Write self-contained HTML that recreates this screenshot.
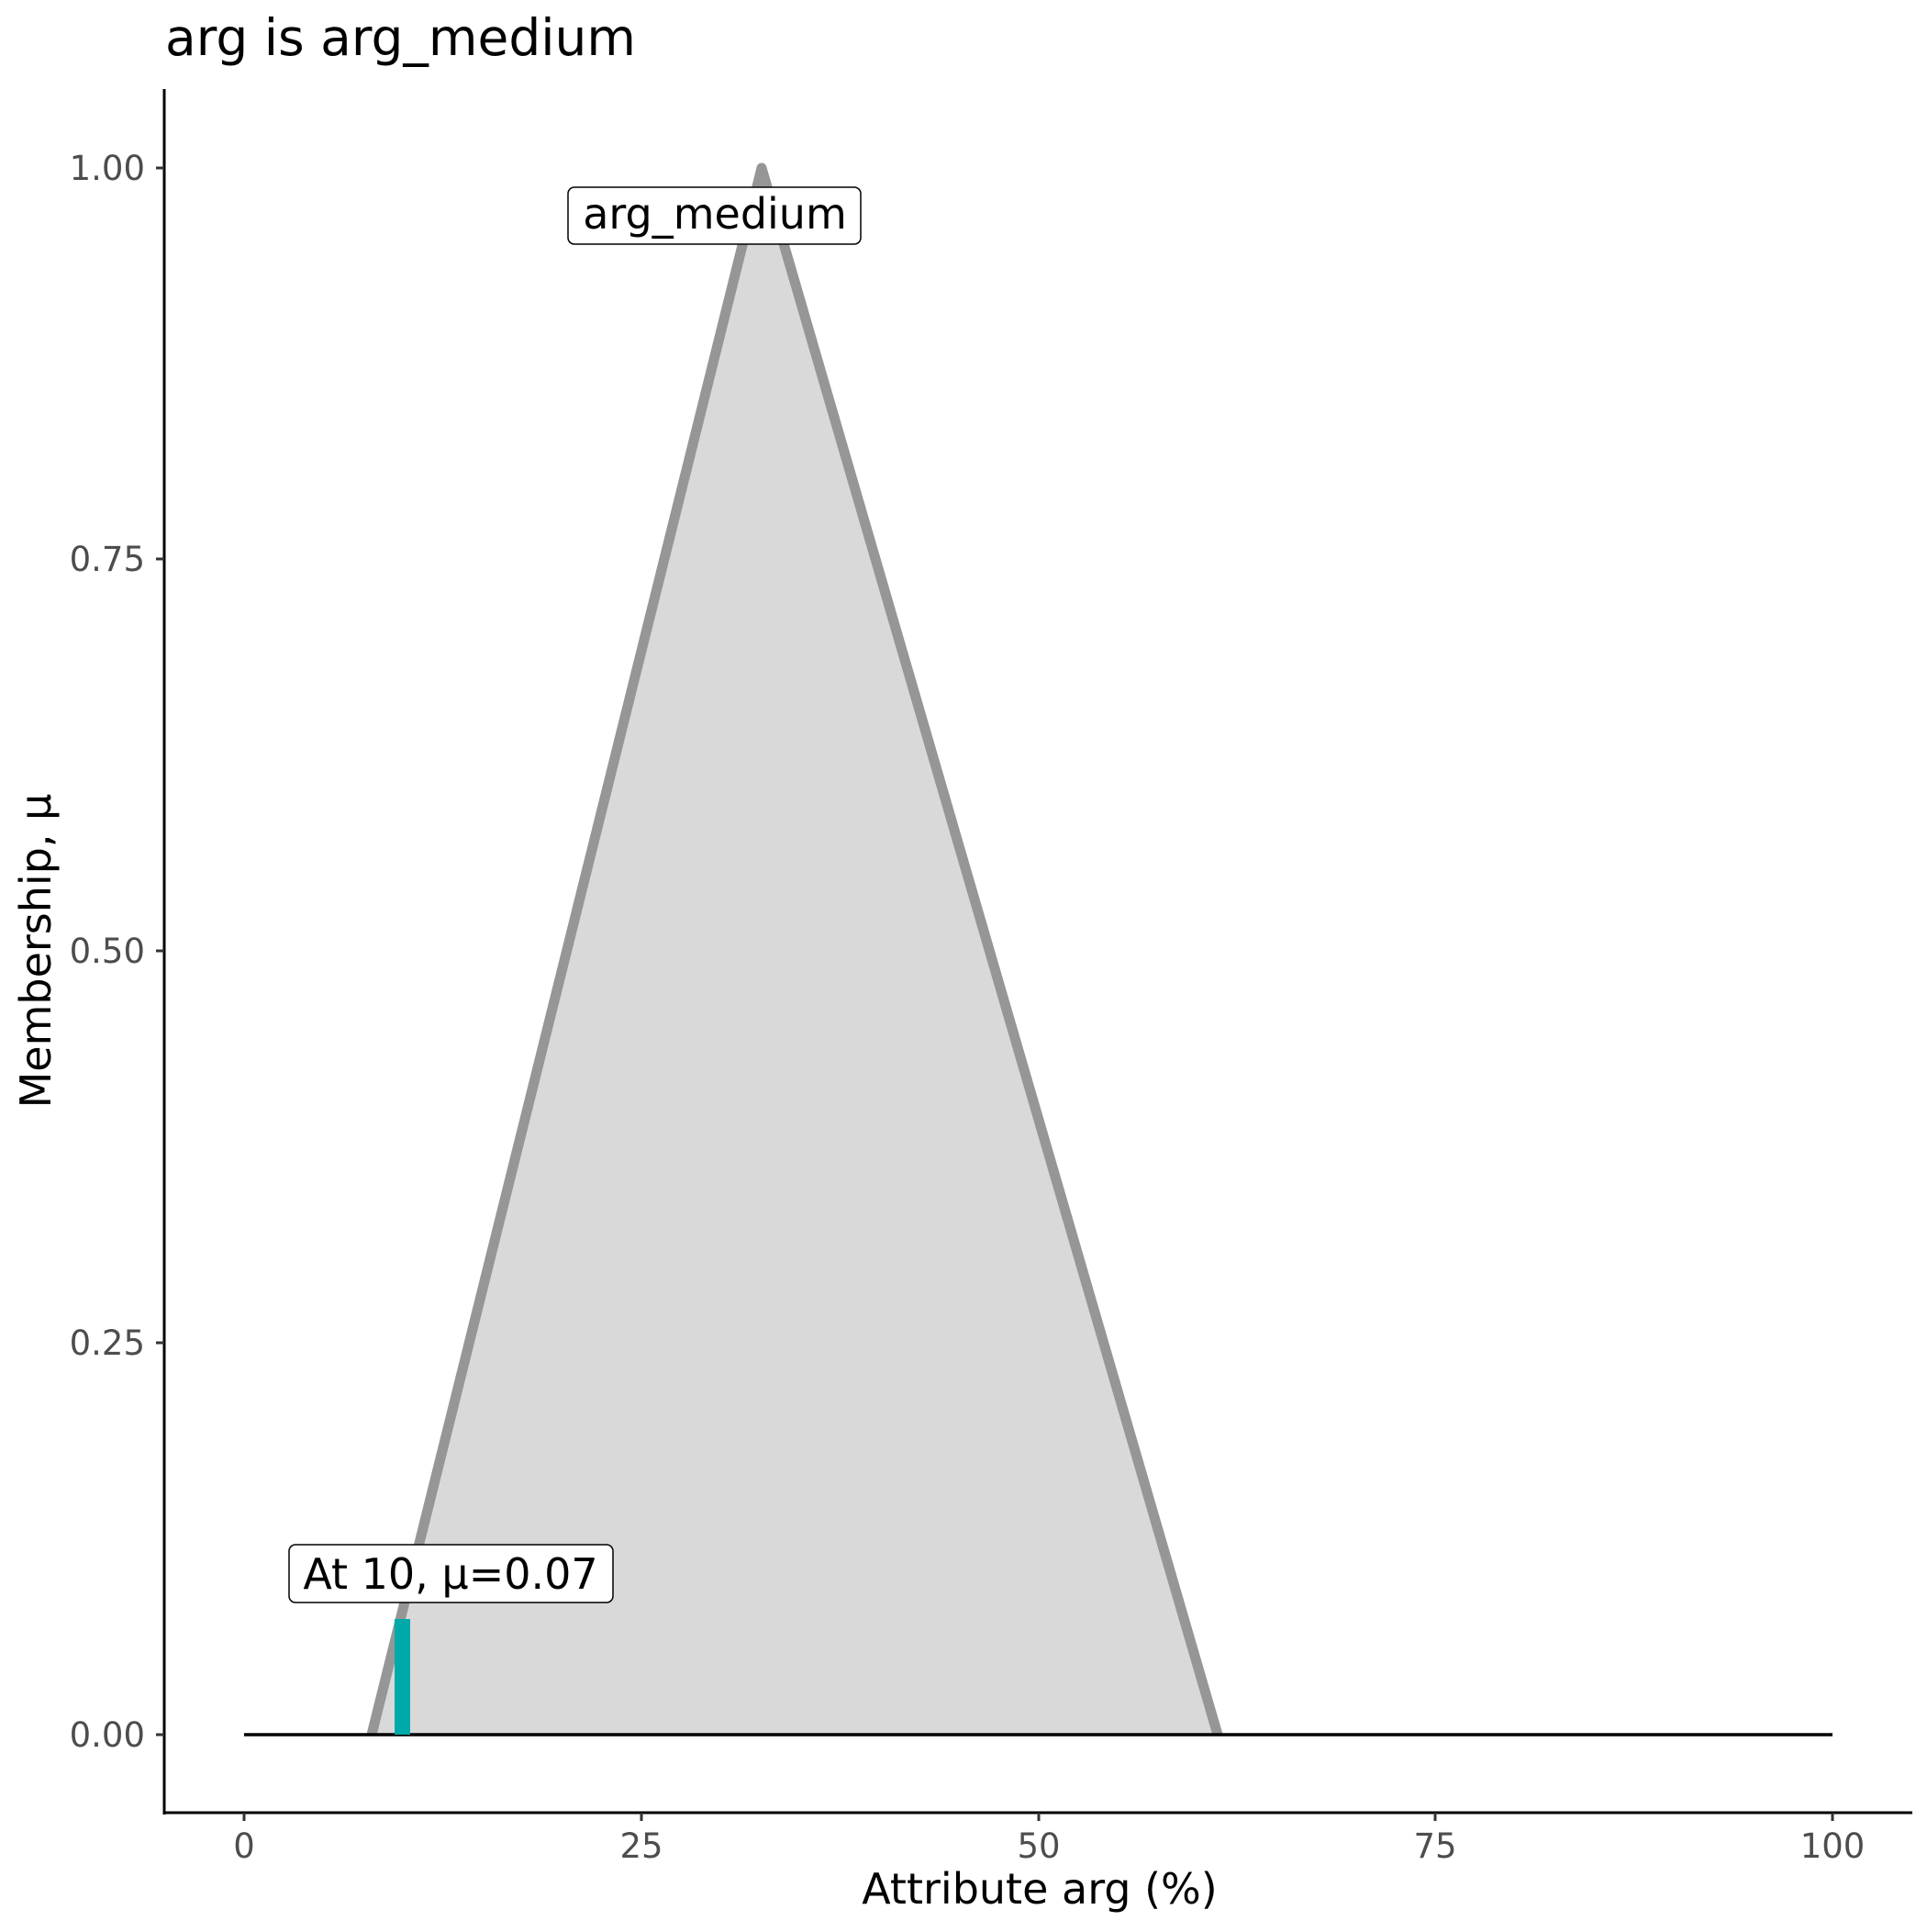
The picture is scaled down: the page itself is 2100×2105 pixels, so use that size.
<!DOCTYPE html>
<html><head><meta charset="utf-8"><style>body{margin:0;background:#fff}</style></head><body>
<svg width="2100" height="2100" xmlns="http://www.w3.org/2000/svg" style="font-family:'DejaVu Sans','Liberation Sans',sans-serif">
<rect width="2100" height="2100" fill="#fff"/>
<polygon points="405,1890 830,183 1327,1890" fill="#d9d9d9"/>
<polyline points="405,1890 830,183 1327,1890" fill="none" stroke="#969696" stroke-width="11" stroke-linejoin="round"/>
<line x1="266" y1="1890" x2="1997" y2="1890" stroke="#000" stroke-width="3.5"/>
<rect x="430" y="1764" width="17" height="126" fill="#00a9a9"/>
<rect x="315" y="1683" width="353" height="63" rx="7" fill="#fff" stroke="#000" stroke-width="1.5"/>
<text x="491" y="1731" font-size="46" text-anchor="middle">At 10, μ=0.07</text>
<rect x="619" y="204" width="319" height="62" rx="7" fill="#fff" stroke="#000" stroke-width="1.5"/>
<text x="779" y="249" font-size="46" text-anchor="middle">arg_medium</text>
<line x1="179" y1="97" x2="179" y2="1977" stroke="#000" stroke-width="3"/>
<line x1="177.5" y1="1975" x2="2084" y2="1975" stroke="#000" stroke-width="3"/>
<g stroke="#333" stroke-width="3">
<line x1="170" y1="1890" x2="179" y2="1890"/><line x1="170" y1="1463" x2="179" y2="1463"/><line x1="170" y1="1036" x2="179" y2="1036"/><line x1="170" y1="609" x2="179" y2="609"/><line x1="170" y1="183" x2="179" y2="183"/>
<line x1="266" y1="1975" x2="266" y2="1984"/><line x1="699" y1="1975" x2="699" y2="1984"/><line x1="1132" y1="1975" x2="1132" y2="1984"/><line x1="1564" y1="1975" x2="1564" y2="1984"/><line x1="1997" y1="1975" x2="1997" y2="1984"/>
</g>
<g font-size="37" fill="#4d4d4d" text-anchor="end">
<text x="158" y="1903">0.00</text><text x="158" y="1476">0.25</text><text x="158" y="1049">0.50</text><text x="158" y="622">0.75</text><text x="158" y="196">1.00</text>
</g>
<g font-size="37" fill="#4d4d4d" text-anchor="middle">
<text x="266" y="2024">0</text><text x="699" y="2024">25</text><text x="1132" y="2024">50</text><text x="1564" y="2024">75</text><text x="1997" y="2024">100</text>
</g>
<text x="1133" y="2074" font-size="46" text-anchor="middle">Attribute arg (%)</text>
<text transform="translate(55,1036) rotate(-90)" font-size="46" text-anchor="middle">Membership, μ</text>
<text x="180" y="60" font-size="55">arg is arg_medium</text>
</svg>
</body></html>
